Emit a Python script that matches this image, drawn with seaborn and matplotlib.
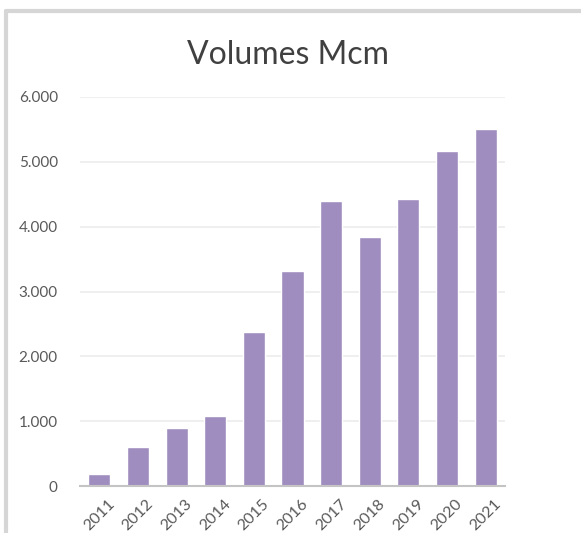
import matplotlib
matplotlib.use("Agg")
import matplotlib.pyplot as plt
from matplotlib.lines import Line2D
from matplotlib.ticker import FuncFormatter
import seaborn as sns
import pandas as pd

# Annual volumes in Mcm
years = ["2011", "2012", "2013", "2014", "2015", "2016",
         "2017", "2018", "2019", "2020", "2021"]
volumes = [180, 600, 900, 1075, 2370, 3320, 4390, 3840, 4430, 5160, 5500]
y_ticks = [0, 1000, 2000, 3000, 4000, 5000, 6000]
title = "Volumes Mcm"

bar_color = "#a08dbf"
text_color = "#595959"

sns.set_style("white")
plt.rcParams["font.family"] = ["Lato", "DejaVu Sans"]

df = pd.DataFrame({"year": years, "volume": volumes})

fig = plt.figure(figsize=(5.81, 5.33), dpi=100)
ax = fig.add_axes([80 / 581, 1 - 486 / 533, 425 / 581, (486 - 97) / 533])

sns.barplot(data=df, x="year", y="volume", color=bar_color, width=0.57,
            saturation=1, ax=ax)

ax.set_ylim(0, 6000)
ax.set_xlim(-0.5, len(years) - 0.5)
ax.set_yticks(y_ticks)
ax.yaxis.set_major_formatter(
    FuncFormatter(lambda v, _: f"{int(v):,}".replace(",", ".")))
ax.grid(axis="y", color="#ececec", linewidth=1.2)
ax.set_axisbelow(True)

for side in ("top", "right", "left"):
    ax.spines[side].set_visible(False)
ax.spines["bottom"].set_color("#c4c4c4")
ax.spines["bottom"].set_linewidth(1.5)

ax.set_xlabel("")
ax.set_ylabel("")
ax.tick_params(axis="y", length=0, pad=16, labelsize=11, labelcolor=text_color)
ax.tick_params(axis="x", length=0, pad=8, labelsize=11.5, labelcolor=text_color)
for lbl in ax.get_xticklabels():
    lbl.set_rotation(45)
    lbl.set_ha("center")

fig.text(288 / 581, 1 - 55 / 533, title, ha="center", va="center",
         fontsize=23, color="#404040")

# Light frame along the top and left edges
frame_kw = dict(color="#d6d6d6", linewidth=3, transform=fig.transFigure)
fig.add_artist(Line2D([6 / 581, 1], [1 - 11 / 533, 1 - 11 / 533], **frame_kw))
fig.add_artist(Line2D([6 / 581, 6 / 581], [0, 1 - 11 / 533], **frame_kw))

fig.savefig("out.png", dpi=100)
